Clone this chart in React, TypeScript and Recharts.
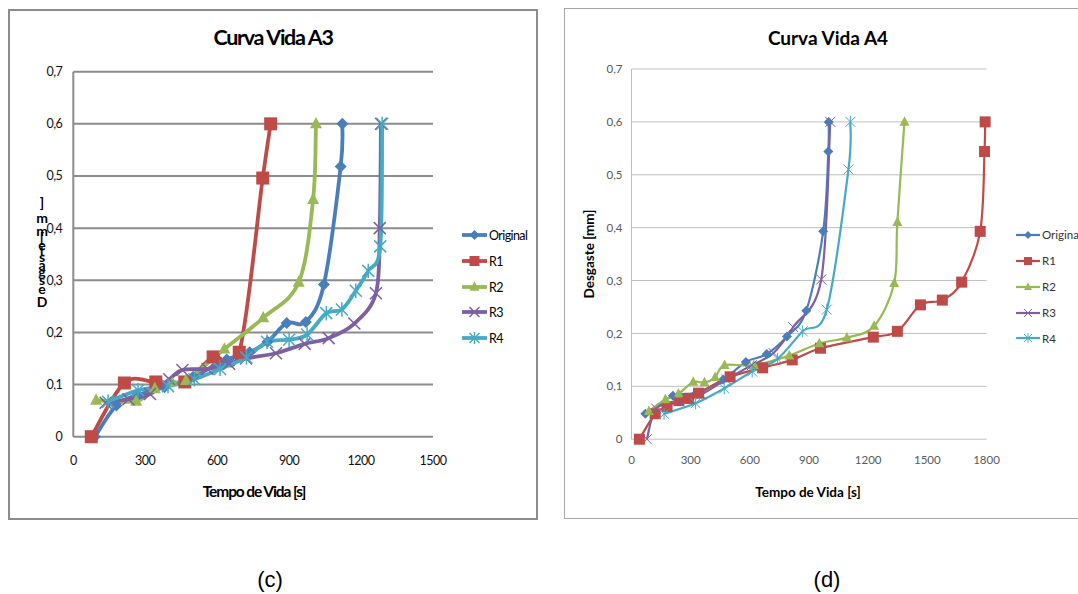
import React from "react";
import { LineChart, Line, XAxis, YAxis, CartesianGrid } from "recharts";

const seriesNames = ["Original", "R1", "R2", "R3", "R4"];
const seriesColors = ["#4a7ebb", "#be4b48", "#98b954", "#7d60a0", "#46aac5"];
const seriesMarkers = ["diamond", "square", "triangle", "x", "star"];

const wearTicks = [0, 0.1, 0.2, 0.3, 0.4, 0.5, 0.6, 0.7];
const a3TimeTicks = [0, 300, 600, 900, 1200, 1500];
const a4TimeTicks = [0, 300, 600, 900, 1200, 1500, 1800];

// Curva Vida A3 — tempo [s] / desgaste [mm]
const a3OriginalTime = [90, 180, 270, 380, 500, 640, 735, 810, 890, 970, 1045, 1115, 1122];
const a3OriginalWear = [0, 0.06, 0.08, 0.095, 0.115, 0.148, 0.162, 0.182, 0.218, 0.22, 0.292, 0.518, 0.6];
const a3R1Time = [75, 213, 344, 465, 583, 692, 790, 823];
const a3R1Wear = [0, 0.103, 0.105, 0.105, 0.153, 0.162, 0.496, 0.6];
const a3R2Time = [95, 262, 340, 410, 470, 630, 792, 940, 1000, 1012];
const a3R2Wear = [0.07, 0.068, 0.092, 0.105, 0.108, 0.168, 0.228, 0.296, 0.455, 0.6];
const a3R3Time = [135, 230, 320, 400, 455, 560, 650, 720, 845, 965, 1065, 1172, 1262, 1278, 1283];
const a3R3Wear = [0.065, 0.072, 0.082, 0.11, 0.128, 0.13, 0.14, 0.15, 0.16, 0.178, 0.189, 0.217, 0.275, 0.4, 0.6];
const a3R4Time = [145, 270, 395, 505, 612, 722, 808, 900, 975, 1055, 1120, 1178, 1230, 1280, 1288];
const a3R4Wear = [0.067, 0.089, 0.097, 0.11, 0.13, 0.152, 0.182, 0.186, 0.196, 0.237, 0.244, 0.28, 0.318, 0.365, 0.6];

// Curva Vida A4
const a4OriginalTime = [70, 210, 330, 465, 580, 686, 788, 886, 972, 998, 1000];
const a4OriginalWear = [0.048, 0.082, 0.088, 0.113, 0.146, 0.161, 0.194, 0.243, 0.393, 0.544, 0.6];
const a4R1Time = [40, 120, 180, 240, 290, 340, 500, 665, 815, 958, 1226, 1348, 1465, 1576, 1674, 1768, 1790, 1793];
const a4R1Wear = [0, 0.048, 0.062, 0.073, 0.077, 0.087, 0.118, 0.135, 0.15, 0.172, 0.193, 0.204, 0.254, 0.263, 0.297, 0.393, 0.544, 0.6];
const a4R2Time = [88, 172, 238, 313, 370, 424, 472, 620, 800, 952, 1092, 1230, 1332, 1348, 1384];
const a4R2Wear = [0.053, 0.075, 0.086, 0.108, 0.107, 0.117, 0.14, 0.14, 0.158, 0.181, 0.192, 0.214, 0.295, 0.41, 0.6];
const a4R3Time = [78, 125, 240, 355, 480, 610, 720, 820, 962, 1008];
const a4R3Wear = [0, 0.058, 0.072, 0.085, 0.113, 0.14, 0.163, 0.212, 0.302, 0.6];
const a4R4Time = [165, 325, 470, 612, 740, 868, 990, 1100, 1110];
const a4R4Wear = [0.048, 0.068, 0.096, 0.128, 0.152, 0.204, 0.245, 0.51, 0.6];

const zip = (xs: number[], ys: number[]) => xs.map((x, i) => ({ x, y: ys[i] }));

const a3Series = [
  zip(a3OriginalTime, a3OriginalWear),
  zip(a3R1Time, a3R1Wear),
  zip(a3R2Time, a3R2Wear),
  zip(a3R3Time, a3R3Wear),
  zip(a3R4Time, a3R4Wear),
];
const a4Series = [
  zip(a4OriginalTime, a4OriginalWear),
  zip(a4R1Time, a4R1Wear),
  zip(a4R2Time, a4R2Wear),
  zip(a4R3Time, a4R3Wear),
  zip(a4R4Time, a4R4Wear),
];

// smoothed line like Excel (cardinal spline through the points)
const excelSmooth: any = (context: any) => {
  let pts: number[][] = [];
  return {
    areaStart() {},
    areaEnd() {},
    lineStart() {
      pts = [];
    },
    point(x: number, y: number) {
      pts.push([+x, +y]);
    },
    lineEnd() {
      const n = pts.length;
      if (!n) return;
      context.moveTo(pts[0][0], pts[0][1]);
      for (let i = 0; i < n - 1; i++) {
        const p0 = pts[Math.max(0, i - 1)];
        const p1 = pts[i];
        const p2 = pts[i + 1];
        const p3 = pts[Math.min(n - 1, i + 2)];
        context.bezierCurveTo(
          p1[0] + (p2[0] - p0[0]) / 6,
          p1[1] + (p2[1] - p0[1]) / 6,
          p2[0] - (p3[0] - p1[0]) / 6,
          p2[1] - (p3[1] - p1[1]) / 6,
          p2[0],
          p2[1]
        );
      }
    },
  };
};

function Marker({ kind, x, y, s, color, thin }: any) {
  switch (kind) {
    case "diamond":
      return <polygon points={`${x},${y - s} ${x + s},${y} ${x},${y + s} ${x - s},${y}`} fill={color} />;
    case "square":
      return <rect x={x - s} y={y - s} width={2 * s} height={2 * s} fill={color} />;
    case "triangle":
      return <polygon points={`${x},${y - s * 1.15} ${x + s},${y + s * 0.75} ${x - s},${y + s * 0.75}`} fill={color} />;
    case "x":
      return (
        <g stroke={color} strokeWidth={thin}>
          <line x1={x - s} y1={y - s} x2={x + s} y2={y + s} />
          <line x1={x - s} y1={y + s} x2={x + s} y2={y - s} />
        </g>
      );
    default:
      return (
        <g stroke={color} strokeWidth={thin}>
          <line x1={x - s} y1={y - s} x2={x + s} y2={y + s} />
          <line x1={x - s} y1={y + s} x2={x + s} y2={y - s} />
          <line x1={x} y1={y - s * 1.2} x2={x} y2={y + s * 1.2} />
        </g>
      );
  }
}

const makeDot = (i: number, size: number, thin: number) => (props: any) => (
  <g key={`d-${i}-${props.index}`}>
    <Marker kind={seriesMarkers[i]} x={props.cx} y={props.cy} s={size} color={seriesColors[i]} thin={thin} />
  </g>
);

const fmtWear = (v: number) => (v === 0 ? "0" : v.toFixed(1).replace(".", ","));

function LegendBlock({ left, tops, lineW, size, strokeW, thin, fontStyle }: any) {
  return (
    <>
      {seriesNames.map((name, i) => (
        <div key={name} style={{ position: "absolute", left, top: tops[i] - 8, height: 16, display: "flex", alignItems: "center", whiteSpace: "nowrap" }}>
          <svg width={lineW} height={16} style={{ display: "block" }}>
            <line x1={0} y1={8} x2={lineW} y2={8} stroke={seriesColors[i]} strokeWidth={strokeW} />
            <Marker kind={seriesMarkers[i]} x={lineW / 2} y={8} s={size} color={seriesColors[i]} thin={thin} />
          </svg>
          <span style={{ marginLeft: 2, ...fontStyle }}>{name}</span>
        </div>
      ))}
    </>
  );
}

// the (c) panel's y title is rendered as a collapsed vertical stack in the source
const garbledChars = ["]", "m", "m", "[", "e", "t", "s", "a", "g", "s", "e", "D"];
const garbledY = [203, 218, 231, 238, 245, 251, 257, 265, 272, 280, 289, 302];

export default function App() {
  const baseFont = { fontFamily: "Lato, 'Open Sans', sans-serif" };
  return (
    <div style={{ position: "absolute", left: 0, top: 0, width: 1078, height: 594, background: "#fff", overflow: "hidden", ...baseFont }}>
      {/* (c) frame */}
      <div style={{ position: "absolute", left: 8, top: 9, width: 530, height: 511, border: "2px solid #8c8c8c", boxSizing: "border-box" }} />
      {/* (d) frame */}
      <div style={{ position: "absolute", left: 564, top: 8, width: 530, height: 511, border: "1.5px solid #a6a6a6", boxSizing: "border-box" }} />

      <div style={{ position: "absolute", left: 0, top: 0 }}>
        <LineChart width={538} height={520} margin={{ top: 71.7, right: 105, left: 33.3, bottom: 53.3 }}>
          <CartesianGrid vertical={false} stroke="#8c8c8c" strokeWidth={2} />
          <XAxis
            type="number"
            dataKey="x"
            domain={[0, 1500]}
            ticks={a3TimeTicks}
            interval={0}
            height={30}
            axisLine={false}
            tickLine={false}
            tickSize={0}
            tickMargin={19}
            tick={{ fontSize: 12.5, fill: "#111", letterSpacing: -0.5 }}
          />
          <YAxis
            type="number"
            dataKey="y"
            domain={[0, 0.7]}
            ticks={wearTicks}
            interval={0}
            width={40}
            axisLine={{ stroke: "#8c8c8c", strokeWidth: 2 }}
            tickLine={false}
            tickSize={0}
            tickMargin={11}
            tickFormatter={fmtWear}
            tick={{ fontSize: 12.5, fill: "#111", letterSpacing: -0.5 }}
          />
          {a3Series.map((d, i) => (
            <Line
              key={seriesNames[i]}
              data={d}
              dataKey="y"
              name={seriesNames[i]}
              type={excelSmooth}
              stroke={seriesColors[i]}
              strokeWidth={3.8}
              dot={makeDot(i, i === 1 ? 6.5 : 6, 1.5)}
              activeDot={false}
              isAnimationActive={false}
            />
          ))}
        </LineChart>
      </div>

      <div style={{ position: "absolute", left: 564, top: 0 }}>
        <LineChart width={514} height={520} margin={{ top: 69, right: 91.5, left: 27.5, bottom: 50.8 }}>
          <CartesianGrid vertical={false} stroke="#bfbfbf" strokeWidth={1} />
          <XAxis
            type="number"
            dataKey="x"
            domain={[0, 1800]}
            ticks={a4TimeTicks}
            interval={0}
            height={30}
            axisLine={false}
            tickLine={false}
            tickSize={0}
            tickMargin={17}
            tick={{ fontSize: 11.5, fill: "#595959" }}
          />
          <YAxis
            type="number"
            dataKey="y"
            domain={[0, 0.7]}
            ticks={wearTicks}
            interval={0}
            width={40}
            axisLine={{ stroke: "#bfbfbf", strokeWidth: 1 }}
            tickLine={false}
            tickSize={0}
            tickMargin={9}
            tickFormatter={fmtWear}
            tick={{ fontSize: 11.5, fill: "#595959" }}
          />
          {a4Series.map((d, i) => (
            <Line
              key={seriesNames[i]}
              data={d}
              dataKey="y"
              name={seriesNames[i]}
              type={excelSmooth}
              stroke={seriesColors[i]}
              strokeWidth={2.2}
              dot={makeDot(i, i === 1 ? 5.5 : 5, 1)}
              activeDot={false}
              isAnimationActive={false}
            />
          ))}
        </LineChart>
      </div>

      {/* titles */}
      <div style={{ position: "absolute", left: 273, top: 37, transform: "translate(-50%,-50%)", fontSize: 21.5, fontWeight: 700, letterSpacing: -1.3, whiteSpace: "nowrap" }}>
        Curva Vida A3
      </div>
      <div style={{ position: "absolute", left: 828, top: 37, transform: "translate(-50%,-50%)", fontSize: 19, fontWeight: 700, whiteSpace: "nowrap" }}>
        Curva Vida A4
      </div>

      {/* axis titles */}
      <div style={{ position: "absolute", left: 254, top: 491, transform: "translate(-50%,-50%)", fontSize: 15.5, fontWeight: 700, letterSpacing: -1.1, whiteSpace: "nowrap" }}>
        Tempo de Vida [s]
      </div>
      <div style={{ position: "absolute", left: 808, top: 492, transform: "translate(-50%,-50%)", fontSize: 13.5, fontWeight: 700, whiteSpace: "nowrap" }}>
        Tempo de Vida [s]
      </div>
      <div style={{ position: "absolute", left: 589, top: 254, transform: "translate(-50%,-50%) rotate(-90deg)", fontSize: 13.5, fontWeight: 700, whiteSpace: "nowrap" }}>
        Desgaste [mm]
      </div>
      <svg style={{ position: "absolute", left: 30, top: 190 }} width={30} height={120}>
        <text textAnchor="middle" fontSize={14} fontWeight={700} fontFamily="Lato, sans-serif" fill="#000">
          {garbledChars.map((c, k) => (
            <tspan key={k} x={12} y={garbledY[k] - 190 + 5}>
              {c}
            </tspan>
          ))}
        </text>
      </svg>

      {/* legends */}
      <LegendBlock
        left={462}
        tops={[235, 261, 287, 312, 338]}
        lineW={25}
        size={5}
        strokeW={3.8}
        thin={1.5}
        fontStyle={{ fontSize: 12.5, letterSpacing: -0.6, color: "#000" }}
      />
      <LegendBlock
        left={1016}
        tops={[234.5, 260.6, 286.7, 312.5, 338]}
        lineW={24}
        size={4}
        strokeW={2.2}
        thin={1}
        fontStyle={{ fontSize: 11.5, color: "#333" }}
      />

      {/* panel captions */}
      <div style={{ position: "absolute", left: 270, top: 580, transform: "translate(-50%,-50%)", fontSize: 22, fontFamily: "'Liberation Sans', Arial, sans-serif" }}>
        (c)
      </div>
      <div style={{ position: "absolute", left: 827, top: 580, transform: "translate(-50%,-50%)", fontSize: 22, fontFamily: "'Liberation Sans', Arial, sans-serif" }}>
        (d)
      </div>
    </div>
  );
}
